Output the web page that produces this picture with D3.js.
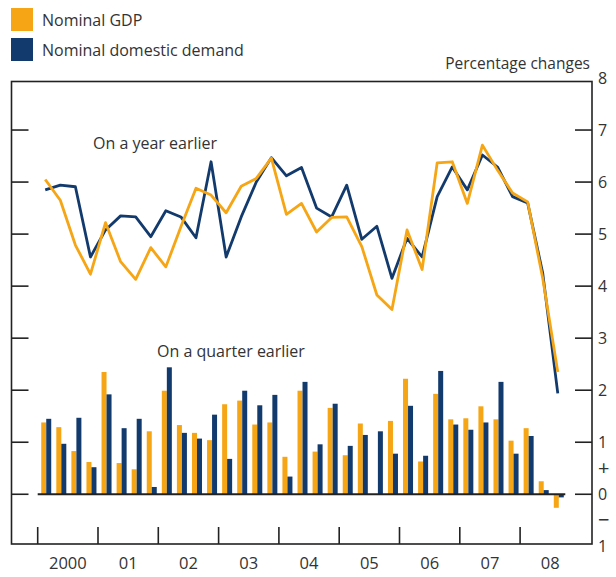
<!DOCTYPE html>
<html>
<head>
<meta charset="utf-8">
<script src="https://cdn.jsdelivr.net/npm/d3@7"></script>
<style>
  body { margin: 0; background: #fff; }
  text { font-family: "Open Sans", "Noto Sans", sans-serif; fill: #333; }
</style>
</head>
<body>
<div class="chart"></div>
<script>
// quarters, 2000 Q1 .. 2008 Q3
var quarters = ["2000Q1","2000Q2","2000Q3","2000Q4","2001Q1","2001Q2","2001Q3","2001Q4",
    "2002Q1","2002Q2","2002Q3","2002Q4","2003Q1","2003Q2","2003Q3","2003Q4",
    "2004Q1","2004Q2","2004Q3","2004Q4","2005Q1","2005Q2","2005Q3","2005Q4",
    "2006Q1","2006Q2","2006Q3","2006Q4","2007Q1","2007Q2","2007Q3","2007Q4",
    "2008Q1","2008Q2","2008Q3"];

// on a year earlier (lines)
var gdpYear = [6.05,5.65,4.79,4.23,5.22,4.47,4.13,4.74,4.37,5.14,5.88,5.75,5.41,5.92,6.07,6.46,
    5.38,5.59,5.04,5.32,5.33,4.76,3.83,3.55,5.08,4.32,6.37,6.39,5.59,6.71,6.23,5.79,5.62,4.15,2.35];
var demandYear = [5.85,5.94,5.91,4.56,5.08,5.35,5.33,4.95,5.45,5.33,4.93,6.39,4.56,5.33,6.0,6.47,
    6.12,6.28,5.5,5.33,5.94,4.9,5.15,4.15,4.92,4.56,5.72,6.29,5.85,6.52,6.29,5.72,5.6,4.25,1.94];

// on a quarter earlier (bars)
var gdpQuarter = [1.38,1.29,0.83,0.62,2.35,0.6,0.48,1.21,1.99,1.33,1.18,1.04,1.73,1.8,1.34,1.38,
    0.72,1.99,0.82,1.66,0.75,1.36,0.0,1.41,2.22,0.63,1.93,1.44,1.46,1.69,1.44,1.03,1.27,0.25,-0.26];
var demandQuarter = [1.45,0.97,1.47,0.52,1.92,1.27,1.45,0.14,2.44,1.18,1.07,1.53,0.68,1.99,1.71,1.91,
    0.34,2.16,0.96,1.74,0.93,1.14,1.21,0.78,1.7,0.74,2.37,1.34,1.24,1.38,2.16,0.78,1.12,0.08,-0.06];

var years = [2000,2001,2002,2003,2004,2005,2006,2007,2008];
var yearLabels = ["2000","01","02","03","04","05","06","07","08"];
var yTicks = [1,2,3,4,5,6,7,0];
var yLabels = [
    {v: 8, t: "8"}, {v: 7, t: "7"}, {v: 6, t: "6"}, {v: 5, t: "5"}, {v: 4, t: "4"},
    {v: 3, t: "3"}, {v: 2, t: "2"}, {v: 1, t: "1"}, {v: 0.5, t: "+"}, {v: 0, t: "0"},
    {v: -0.5, t: "\u2212"}, {v: -1, t: "1"}];

var orange = "#f6a514", blue = "#123a6d";
var W = 616, H = 577;
var frame = {left: 11.5, right: 592, top: 81.5, bottom: 544};

var svg = d3.select(".chart").append("svg")
    .attr("width", W)
    .attr("height", H);

var xScale = d3.scaleLinear().domain([2000, 2009]).range([37.7, 580.4]);
var yScale = d3.scaleLinear().domain([-1, 8]).range([546.3, 78]);

function qTime(i) { return 2000 + (i + 0.5) / 4; }

// legend
var legend = [{label: "Nominal GDP", color: orange}, {label: "Nominal domestic demand", color: blue}];
legend.forEach(function(d, i) {
    svg.append("rect")
        .attr("x", 11).attr("y", 8 + i * 30)
        .attr("width", 22).attr("height", 23)
        .attr("fill", d.color);
    svg.append("text")
        .attr("x", 42).attr("y", 20 + i * 30)
        .attr("dy", "0.35em")
        .style("font-size", "16px")
        .text(d.label);
});

svg.append("text")
    .attr("x", 590).attr("y", 64)
    .attr("dy", "0.35em")
    .attr("text-anchor", "end")
    .style("font-size", "15.5px")
    .text("Percentage changes");

// frame
svg.append("rect")
    .attr("x", frame.left).attr("y", frame.top)
    .attr("width", frame.right - frame.left)
    .attr("height", frame.bottom - frame.top)
    .attr("fill", "none")
    .attr("stroke", "#222")
    .attr("stroke-width", 1.6);

// y ticks both sides
var tickG = svg.append("g").attr("stroke", "#222").attr("stroke-width", 1.6);
yTicks.forEach(function(v) {
    tickG.append("line")
        .attr("x1", frame.left).attr("x2", frame.left + 17)
        .attr("y1", yScale(v)).attr("y2", yScale(v));
    tickG.append("line")
        .attr("x1", frame.right - 17).attr("x2", frame.right)
        .attr("y1", yScale(v)).attr("y2", yScale(v));
});

svg.append("g").selectAll("text")
    .data(yLabels)
    .enter().append("text")
    .attr("x", 598)
    .attr("y", function(d) { return yScale(d.v); })
    .attr("dy", "0.36em")
    .style("font-size", function(d) { return (d.t === "+" || d.t === "\u2212") ? "20px" : "16px"; })
    .text(function(d) { return d.t; });

// x ticks and year labels
years.forEach(function(y, i) {
    tickG.append("line")
        .attr("x1", xScale(y)).attr("x2", xScale(y))
        .attr("y1", frame.bottom - 17).attr("y2", frame.bottom);
    svg.append("text")
        .attr("x", xScale(y + 0.5))
        .attr("y", 563)
        .attr("dy", "0.35em")
        .attr("text-anchor", "middle")
        .style("font-size", "16.5px")
        .text(yearLabels[i]);
});

// bars
var bw = 5;
var bars = svg.append("g");
bars.selectAll(".gdp")
    .data(gdpQuarter)
    .enter().append("rect")
    .attr("x", function(d, i) { return xScale(qTime(i)) - bw + 1; })
    .attr("y", function(d) { return yScale(Math.max(d, 0)); })
    .attr("width", bw)
    .attr("height", function(d) { return Math.abs(yScale(d) - yScale(0)); })
    .attr("fill", orange);
bars.selectAll(".dem")
    .data(demandQuarter)
    .enter().append("rect")
    .attr("x", function(d, i) { return xScale(qTime(i)) + 1; })
    .attr("y", function(d) { return yScale(Math.max(d, 0)); })
    .attr("width", bw)
    .attr("height", function(d) { return Math.abs(yScale(d) - yScale(0)); })
    .attr("fill", blue);

// zero line
svg.append("line")
    .attr("x1", xScale(2000)).attr("x2", xScale(qTime(quarters.length - 1)) + 7.5)
    .attr("y1", yScale(0)).attr("y2", yScale(0))
    .attr("stroke", "#222")
    .attr("stroke-width", 2);

// lines
var line = d3.line()
    .x(function(d, i) { return xScale(qTime(i)); })
    .y(function(d) { return yScale(d); });

svg.append("path")
    .datum(demandYear)
    .attr("fill", "none")
    .attr("stroke", blue)
    .attr("stroke-width", 2.8)
    .attr("stroke-linejoin", "round")
    .attr("d", line);

svg.append("path")
    .datum(gdpYear)
    .attr("fill", "none")
    .attr("stroke", orange)
    .attr("stroke-width", 2.8)
    .attr("stroke-linejoin", "round")
    .attr("d", line);

svg.append("text")
    .attr("x", 93).attr("y", 143)
    .attr("dy", "0.35em")
    .style("font-size", "16px")
    .text("On a year earlier");

svg.append("text")
    .attr("x", 157).attr("y", 351)
    .attr("dy", "0.35em")
    .style("font-size", "16px")
    .text("On a quarter earlier");
</script>
</body>
</html>
